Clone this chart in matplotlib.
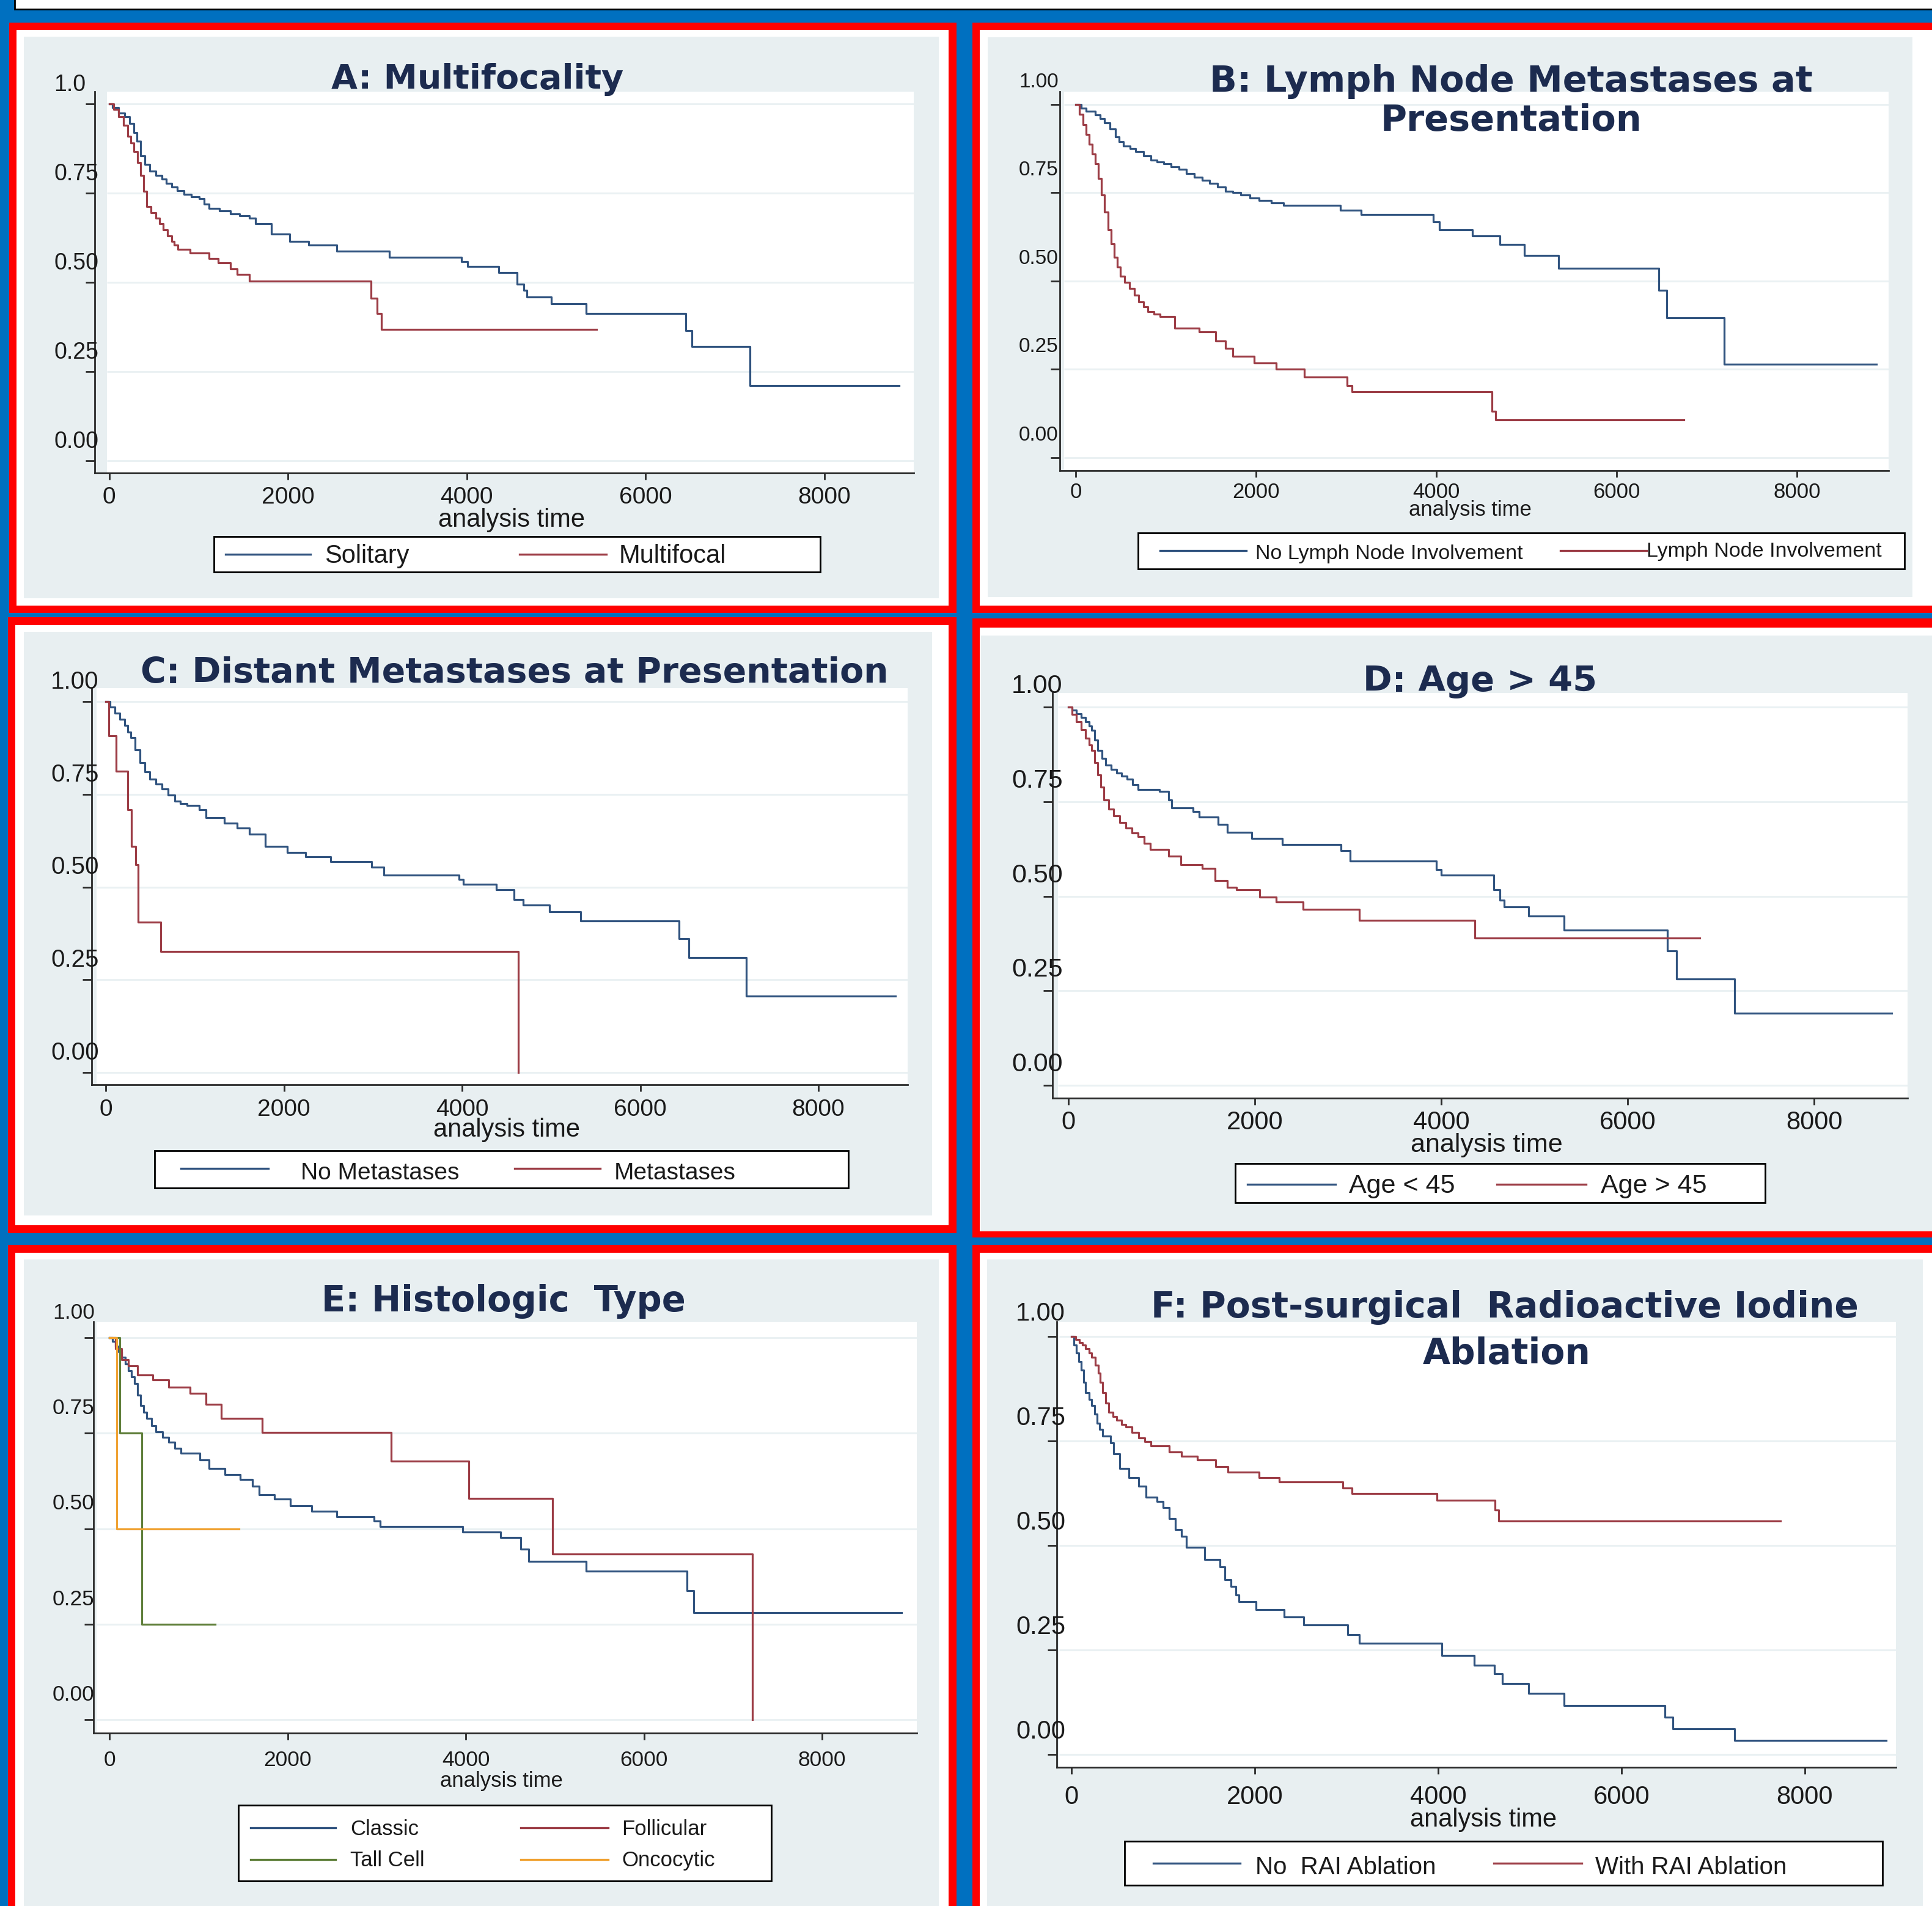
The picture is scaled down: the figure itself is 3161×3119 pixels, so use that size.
import matplotlib
matplotlib.use("Agg")
import matplotlib.pyplot as plt
from matplotlib.patches import Rectangle
from matplotlib.lines import Line2D
from matplotlib.transforms import ScaledTranslation, blended_transform_factory

# ---------------- data ----------------
x_ticks = [0, 2000, 4000, 6000, 8000]
y_ticks = [0.0, 0.25, 0.50, 0.75, 1.0]
y_tick_labels_A = ["0.00", "0.25", "0.50", "0.75", "1.0"]
y_tick_labels = ["0.00", "0.25", "0.50", "0.75", "1.00"]
x_axis_title = "analysis time"

title_A = ["A: Multifocality"]
title_B = ["B: Lymph Node Metastases at", "Presentation"]
title_C = ["C: Distant Metastases at Presentation"]
title_D = ["D: Age > 45"]
title_E = ["E: Histologic  Type"]
title_F = ["F: Post-surgical  Radioactive Iodine", "Ablation"]

# A: Multifocality
A_solitary_t = [0, 35, 105, 174, 230, 279, 310, 348, 400, 453, 520, 592, 640, 697, 760, 836, 920, 1010, 1060,
                1115, 1230, 1359, 1460, 1568, 1638, 1812, 2021, 2230, 2544, 3136, 3937, 4007, 4355, 4564,
                4634, 4669, 4948, 5331, 6446, 6516, 7164, 8836]
A_solitary_s = [1.0, 0.990, 0.975, 0.964, 0.945, 0.920, 0.895, 0.855, 0.830, 0.811, 0.800, 0.789, 0.778,
                0.767, 0.757, 0.746, 0.740, 0.735, 0.720, 0.707, 0.700, 0.691, 0.686, 0.680, 0.664, 0.636,
                0.615, 0.604, 0.587, 0.571, 0.558, 0.544, 0.527, 0.495, 0.478, 0.459, 0.440, 0.413, 0.364,
                0.320, 0.211, 0.211]
A_multi_t = [0, 50, 105, 160, 209, 245, 279, 315, 348, 383, 418, 470, 523, 560, 606, 650, 697, 730, 767, 906,
             1115, 1220, 1359, 1429, 1568, 2927, 2997, 3045, 5449]
A_multi_s = [1.0, 0.985, 0.964, 0.940, 0.909, 0.890, 0.866, 0.835, 0.800, 0.755, 0.713, 0.695, 0.680, 0.665,
             0.647, 0.630, 0.615, 0.605, 0.593, 0.582, 0.566, 0.555, 0.538, 0.522, 0.503, 0.456, 0.413,
             0.369, 0.369]

# B: Lymph node metastases
B_noln_t = [0, 60, 116, 219, 270, 322, 380, 438, 480, 527, 600, 664, 750, 836, 900, 973, 1060, 1144, 1230,
            1315, 1400, 1486, 1570, 1658, 1740, 1829, 1930, 2034, 2170, 2308, 2938, 3164, 3966, 4034, 4397,
            4705, 4979, 5356, 6466, 6555, 7192, 8884]
B_noln_s = [1.0, 0.990, 0.981, 0.970, 0.960, 0.948, 0.930, 0.909, 0.895, 0.882, 0.875, 0.866, 0.855, 0.843,
            0.838, 0.832, 0.824, 0.816, 0.805, 0.794, 0.786, 0.777, 0.766, 0.755, 0.750, 0.744, 0.736,
            0.728, 0.721, 0.714, 0.700, 0.689, 0.667, 0.645, 0.628, 0.603, 0.573, 0.537, 0.474, 0.397,
            0.265, 0.265]
B_ln_t = [0, 40, 82, 117, 151, 185, 219, 254, 288, 322, 356, 390, 425, 459, 493, 545, 596, 648, 699, 750, 801,
          870, 938, 1096, 1370, 1555, 1658, 1740, 1979, 2226, 2534, 3007, 3062, 4616, 4658, 6747]
B_ln_s = [1.0, 0.972, 0.943, 0.915, 0.888, 0.860, 0.833, 0.790, 0.744, 0.695, 0.645, 0.605, 0.568, 0.540,
          0.513, 0.497, 0.480, 0.460, 0.441, 0.427, 0.413, 0.406, 0.400, 0.367, 0.356, 0.331, 0.309, 0.287,
          0.268, 0.250, 0.228, 0.204, 0.187, 0.132, 0.107, 0.107]

# C: Distant metastases
C_nomet_t = [0, 50, 105, 160, 211, 245, 281, 330, 386, 440, 491, 560, 632, 700, 772, 840, 912, 1053, 1123,
             1333, 1474, 1614, 1789, 2035, 2246, 2526, 2982, 3123, 3965, 4014, 4386, 4582, 4688, 4982, 5333,
             6435, 6547, 7193, 8863]
C_nomet_s = [1.0, 0.985, 0.968, 0.952, 0.935, 0.918, 0.902, 0.870, 0.836, 0.810, 0.791, 0.778, 0.764, 0.748,
             0.731, 0.725, 0.720, 0.709, 0.687, 0.672, 0.659, 0.642, 0.609, 0.593, 0.582, 0.568, 0.554,
             0.532, 0.521, 0.508, 0.493, 0.466, 0.451, 0.433, 0.408, 0.361, 0.309, 0.206, 0.206]
C_met_t = [0, 35, 119, 246, 285, 337, 365, 618, 4632]
C_met_s = [1.0, 0.907, 0.813, 0.709, 0.609, 0.560, 0.405, 0.326, 0.0]

# D: Age
D_young_t = [0, 40, 86, 135, 185, 220, 251, 285, 317, 360, 403, 460, 515, 570, 627, 690, 746, 977, 1076, 1109,
             1340, 1406, 1604, 1703, 1967, 2297, 2924, 3023, 3947, 4000, 4561, 4627, 4673, 4937, 5320, 6423,
             6522, 7149, 8833]
D_young_s = [1.0, 0.992, 0.983, 0.972, 0.961, 0.950, 0.939, 0.912, 0.885, 0.865, 0.847, 0.836, 0.826, 0.818,
             0.810, 0.795, 0.782, 0.777, 0.755, 0.734, 0.723, 0.709, 0.690, 0.669, 0.653, 0.636, 0.620,
             0.593, 0.571, 0.555, 0.517, 0.490, 0.472, 0.447, 0.411, 0.355, 0.281, 0.190, 0.190]
D_old_t = [0, 40, 86, 135, 185, 220, 251, 285, 317, 350, 383, 430, 482, 550, 614, 680, 746, 810, 878, 1076,
           1208, 1439, 1571, 1703, 1802, 2053, 2231, 2515, 3122, 4363, 6776]
D_old_s = [1.0, 0.980, 0.961, 0.940, 0.918, 0.900, 0.885, 0.853, 0.820, 0.788, 0.755, 0.730, 0.712, 0.695,
           0.680, 0.668, 0.658, 0.640, 0.623, 0.606, 0.584, 0.574, 0.541, 0.523, 0.517, 0.498, 0.485,
           0.466, 0.436, 0.390, 0.390]

# E: Histologic type
E_classic_t = [0, 35, 70, 105, 140, 175, 210, 245, 280, 315, 350, 385, 420, 470, 524, 594, 664, 734, 804,
               1014, 1119, 1294, 1469, 1608, 1678, 1853, 2028, 2273, 2552, 2972, 3042, 3965, 4392, 4615,
               4706, 5350, 6483, 6560, 8895]
E_classic_s = [1.0, 0.990, 0.977, 0.963, 0.949, 0.932, 0.914, 0.897, 0.880, 0.850, 0.823, 0.805, 0.789,
               0.770, 0.754, 0.740, 0.726, 0.710, 0.697, 0.680, 0.657, 0.642, 0.629, 0.611, 0.589, 0.577,
               0.560, 0.546, 0.531, 0.520, 0.506, 0.491, 0.477, 0.446, 0.414, 0.389, 0.337, 0.280, 0.280]
E_foll_t = [0, 70, 140, 210, 315, 490, 664, 909, 1084, 1259, 1713, 3161, 4035, 4972, 7217]
E_foll_s = [1.0, 0.971, 0.943, 0.926, 0.903, 0.889, 0.870, 0.855, 0.825, 0.789, 0.752, 0.677, 0.579, 0.434, 0.0]
E_tall_t = [0, 119, 364, 1189]
E_tall_s = [1.0, 0.75, 0.25, 0.25]
E_onco_t = [0, 84, 1455]
E_onco_s = [1.0, 0.50, 0.50]

# F: RAI ablation
F_norai_t = [0, 25, 54, 80, 108, 130, 155, 190, 223, 250, 277, 305, 338, 426, 459, 527, 628, 730, 811, 932,
             1000, 1068, 1135, 1203, 1250, 1453, 1622, 1676, 1743, 1791, 1824, 2014, 2318, 2534, 3014, 3142,
             4041, 4392, 4615, 4703, 4986, 5372, 6473, 6561, 7230, 8885]
F_norai_s = [1.0, 0.980, 0.960, 0.940, 0.919, 0.890, 0.866, 0.850, 0.835, 0.815, 0.793, 0.778, 0.762,
             0.746, 0.720, 0.684, 0.663, 0.642, 0.616, 0.605, 0.590, 0.564, 0.538, 0.522, 0.496, 0.467,
             0.449, 0.418, 0.402, 0.381, 0.365, 0.347, 0.329, 0.310, 0.287, 0.266, 0.237, 0.214, 0.193,
             0.169, 0.146, 0.117, 0.089, 0.061, 0.033, 0.033]
F_rai_t = [0, 45, 88, 120, 155, 190, 223, 257, 291, 315, 338, 372, 405, 450, 493, 545, 595, 660, 730, 800, 865,
           1068, 1203, 1372, 1574, 1709, 2047, 2264, 2959, 3061, 3986, 4622, 4662, 7736]
F_rai_s = [1.0, 0.993, 0.986, 0.979, 0.971, 0.960, 0.950, 0.932, 0.913, 0.890, 0.866, 0.840, 0.819, 0.808,
           0.799, 0.790, 0.783, 0.770, 0.757, 0.748, 0.739, 0.723, 0.713, 0.705, 0.689, 0.676, 0.663,
           0.652, 0.637, 0.624, 0.608, 0.585, 0.558, 0.558]

# ---------------- styles ----------------
BLUE = "#30537F"
RED = "#9C3C45"
GREEN = "#5F7F3A"
ORANGE = "#F0A232"
GRAY_BG = "#E8EFF1"
GRID = "#EAF1F3"
TITLE_C = "#1C2B4F"
TXT_C = "#1A1A1A"
AX_C = "#2A2A2A"
SANS = ["Liberation Sans", "DejaVu Sans"]
BOLD = ["DejaVu Sans"]

W, H, DPI = 3161, 3119, 100
fig = plt.figure(figsize=(W / DPI, H / DPI), dpi=DPI)
fig.patch.set_facecolor("#0070C0")
renderer = fig.canvas.get_renderer()


def frect(x0, y0, x1, y1, fc, ec="none", lw=0.0, z=-10):
    fig.add_artist(Rectangle((x0 / W, 1 - y1 / H), (x1 - x0) / W, (y1 - y0) / H,
                             transform=fig.transFigure, facecolor=fc, edgecolor=ec,
                             linewidth=lw, zorder=z))


def ftext(x, y, s, **kw):
    return fig.text(x / W, 1 - y / H, s, **kw)


def fline(x0, x1, y, color, z=6):
    fig.add_artist(Line2D([x0 / W, x1 / W], [1 - y / H, 1 - y / H], transform=fig.transFigure,
                          color=color, lw=2.4, zorder=z))


def off(dx, dy):
    return ScaledTranslation(dx / DPI, dy / DPI, fig.dpi_scale_trans)


def fit_size(s, target):
    t = fig.text(0, 0, s, fontsize=50, family=BOLD, weight="bold")
    w = t.get_window_extent(renderer).width
    t.remove()
    return 50.0 * target / w


# top strip
frect(24, -20, 3200, 15, "white", ec="black", lw=2.0, z=-9)

panels = [
    dict(title=title_A, ylabels=y_tick_labels_A,
         series=[(A_solitary_t, A_solitary_s, "Solitary", BLUE), (A_multi_t, A_multi_s, "Multifocal", RED)],
         red=(15, 37, 1565, 1003), white=(27, 49, 1552, 991), gray=(39, 60, 1536, 979),
         ax=(155, 150, 1495, 774), x0=178.6, sx=292.6, y1=170, y0=754, wl=175,
         yup=21, yfs=27, xdn=50, xfs=28, atx=4500, atdn=88, afs=30,
         tpos=[(781, 145), (0, 0)], tw=479,
         lbox=(350, 878, 1342, 936), lfs=30,
         litems=[(369, 508, 907, 531, 921), (850, 992, 907, 1013, 921)]),
    dict(title=title_B, ylabels=y_tick_labels,
         series=[(B_noln_t, B_noln_s, "No Lymph Node Involvement", BLUE),
                 (B_ln_t, B_ln_s, "Lymph Node Involvement", RED)],
         red=(1591, 37, 3200, 1003), white=(1603, 49, 3200, 991), gray=(1616, 61, 3129, 977),
         ax=(1734, 150, 3090, 770), x0=1760, sx=295, y1=171, y0=749, wl=1741,
         yup=28, yfs=24, xdn=45, xfs=25, atx=4373, atdn=74, afs=25,
         tpos=[(2472, 150), (2472, 214)], tw=988,
         lbox=(1862, 872, 3116, 931), lfs=24.5,
         litems=[(1898, 2039, 901, 2054, 915), (2553, 2694, 901, 2694, 911)]),
    dict(title=title_C, ylabels=y_tick_labels,
         series=[(C_nomet_t, C_nomet_s, "No Metastases", BLUE), (C_met_t, C_met_s, "Metastases", RED)],
         red=(13, 1010, 1565, 2018), white=(25, 1023, 1552, 2005), gray=(39, 1034, 1525, 1989),
         ax=(150, 1126, 1485, 1775), x0=173, sx=291.5, y1=1148, y0=1755, wl=158,
         yup=21, yfs=29, xdn=51, xfs=28, atx=4500, atdn=85, afs=30,
         tpos=[(842, 1117)], tw=1224,
         lbox=(253, 1883, 1388, 1944), lfs=28,
         litems=[(296, 439, 1912, 492, 1930), (842, 982, 1912, 1005, 1930)]),
    dict(title=title_D, ylabels=y_tick_labels,
         series=[(D_young_t, D_young_s, "Age < 45", BLUE), (D_old_t, D_old_s, "Age > 45", RED)],
         red=(1591, 1012, 3200, 2025), white=(1603, 1027, 3200, 2015), gray=(1605, 1040, 3200, 2015),
         ax=(1722, 1134, 3121, 1797), x0=1748, sx=305, y1=1157, y0=1776, wl=1731,
         yup=23, yfs=31, xdn=51, xfs=30, atx=4485, atdn=88, afs=31,
         tpos=[(2422, 1131)], tw=383,
         lbox=(2021, 1904, 2888, 1968), lfs=31,
         litems=[(2041, 2185, 1938, 2207, 1952), (2449, 2595, 1938, 2619, 1952)]),
    dict(title=title_E, ylabels=y_tick_labels,
         series=[(E_classic_t, E_classic_s, "Classic", BLUE), (E_foll_t, E_foll_s, "Follicular", RED),
                 (E_tall_t, E_tall_s, "Tall Cell", GREEN), (E_onco_t, E_onco_s, "Oncocytic", ORANGE)],
         red=(13, 2037, 1565, 3200), white=(25, 2050, 1552, 3200), gray=(39, 2061, 1536, 3200),
         ax=(153, 2163, 1500, 2836), x0=179, sx=291.5, y1=2189, y0=2814, wl=158,
         yup=31, yfs=25.5, xdn=54, xfs=25.5, atx=4400, atdn=88, afs=25,
         tpos=[(824, 2146)], tw=597,
         lbox=(390, 2954, 1262, 3078), lfs=25,
         litems=[(410, 549, 2991, 573, 3003), (852, 995, 2991, 1017, 3003),
                 (410, 549, 3043, 573, 3054), (852, 995, 3043, 1017, 3054)]),
    dict(title=title_F, ylabels=y_tick_labels,
         series=[(F_norai_t, F_norai_s, "No  RAI Ablation", BLUE),
                 (F_rai_t, F_rai_s, "With RAI Ablation", RED)],
         red=(1591, 2037, 3200, 3200), white=(1603, 2050, 3200, 3200), gray=(1615, 2061, 3146, 3200),
         ax=(1729, 2163, 3102, 2892), x0=1753, sx=300, y1=2187, y0=2871, wl=1733,
         yup=26, yfs=30, xdn=60, xfs=30, atx=4493, atdn=97, afs=30,
         tpos=[(2462, 2156), (2465, 2232)], tw=1160,
         lbox=(1840, 3013, 3080, 3085), lfs=29,
         litems=[(1887, 2029, 3049, 2054, 3067), (2444, 2588, 3049, 2610, 3067)]),
]

for p in panels:
    # frames
    frect(*p["red"], "#FF0000", z=-10)
    frect(*p["white"], "white", z=-9)
    frect(*p["gray"], GRAY_BG, z=-8)

    L, T, R, B = p["ax"]
    ax = fig.add_axes([L / W, 1 - B / H, (R - L) / W, (B - T) / H])
    ax.set_facecolor(GRAY_BG)
    x0, sx, y1, y0 = p["x0"], p["sx"], p["y1"], p["y0"]
    xl = (L - x0) / sx * 2000
    xr = (R - x0) / sx * 2000
    yb = (y0 - B) / (y0 - y1)
    yt = (y0 - T) / (y0 - y1)
    ax.set_xlim(xl, xr)
    ax.set_ylim(yb, yt)
    wl = (p["wl"] - x0) / sx * 2000
    ax.add_patch(Rectangle((wl, yb), xr - wl, yt - yb, facecolor="white", edgecolor="none", zorder=0.5))
    ax.hlines(y_ticks, wl, xr, colors=GRID, linewidth=2.2, zorder=1)

    for ts, ss, lab, col in p["series"]:
        ax.plot(ts, ss, drawstyle="steps-post", color=col, lw=2.3, zorder=3)

    for s in ("top", "right"):
        ax.spines[s].set_visible(False)
    for s in ("left", "bottom"):
        ax.spines[s].set_color(AX_C)
        ax.spines[s].set_linewidth(2.0)
    ax.set_xticks(x_ticks)
    ax.set_xticklabels([])
    ax.set_yticks(y_ticks)
    ax.set_yticklabels([])
    ax.tick_params(axis="y", length=11, width=2.0, color=AX_C, direction="out")
    ax.tick_params(axis="x", length=8, width=2.0, color=AX_C, direction="out")

    ty = blended_transform_factory(ax.transAxes, ax.transData)
    for v, s in zip(y_ticks, p["ylabels"]):
        ax.text(0, v, s, transform=ty + off(-67, p["yup"]), ha="left", va="baseline",
                fontsize=p["yfs"], family=SANS, color=TXT_C, clip_on=False, zorder=5)
    tx = blended_transform_factory(ax.transData, ax.transAxes)
    for v in x_ticks:
        ax.text(v, 0, str(v), transform=tx + off(0, -p["xdn"]), ha="center", va="baseline",
                fontsize=p["xfs"], family=SANS, color=TXT_C, clip_on=False)
    ax.text(p["atx"], 0, x_axis_title, transform=tx + off(0, -p["atdn"]), ha="center", va="baseline",
            fontsize=p["afs"], family=SANS, color=TXT_C, clip_on=False)

    # title
    tfs = fit_size(p["title"][0], p["tw"])
    for line, (cx, by) in zip(p["title"], p["tpos"]):
        ftext(cx, by, line, ha="center", va="baseline", fontsize=tfs, family=BOLD, weight="bold",
              color=TITLE_C, zorder=4)

    # legend
    bx0, by0, bx1, by1 = p["lbox"]
    frect(bx0, by0, bx1, by1, "white", ec="black", lw=2.0, z=5)
    for (lx0, lx1, ly, txx, tby), (ts, ss, lab, col) in zip(p["litems"], p["series"]):
        fline(lx0, lx1, ly, col, z=6)
        ftext(txx, tby, lab, ha="left", va="baseline", fontsize=p["lfs"], family=SANS, color=TXT_C, zorder=6)

fig.savefig("out.png", dpi=DPI, facecolor=fig.get_facecolor())
